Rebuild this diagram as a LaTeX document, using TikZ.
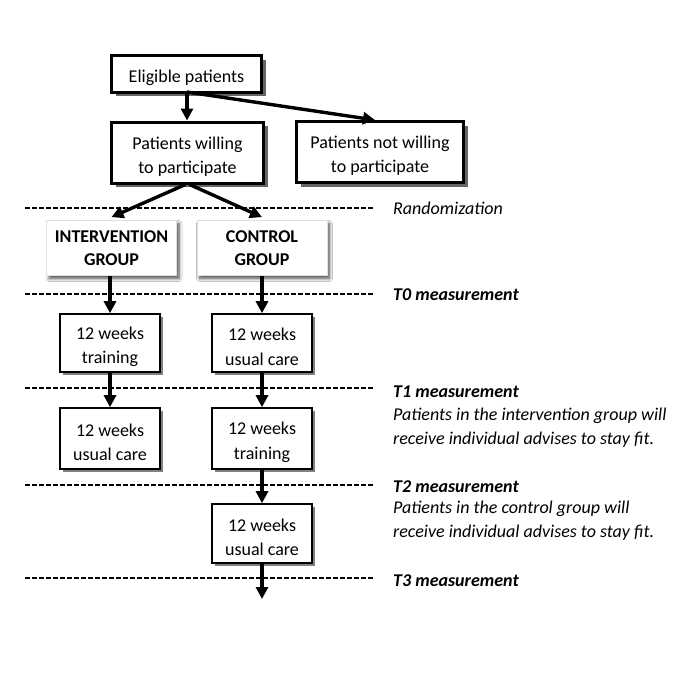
\documentclass[tikz,border=0pt]{standalone}
\usepackage{fontspec}
\setmainfont{Carlito}
\usetikzlibrary{arrows.meta,shadows,shadows.blur}
\newcommand\tup{\rule{0pt}{20pt}}
\begin{document}
\begin{tikzpicture}[x=1pt,y=-1pt,
  topbox/.style={draw=black,line width=3pt,fill=white,align=center,inner sep=0pt,
    font=\fontsize{18}{24}\selectfont,
    drop shadow={shadow xshift=4pt,shadow yshift=-4pt,fill=black!60,opacity=1}},
  grpbox/.style={draw=black!12,line width=0.8pt,fill=white,align=center,inner sep=0pt,
    font=\fontsize{18}{23}\selectfont\bfseries,
    blur shadow={shadow xshift=2.5pt,shadow yshift=-3pt,shadow blur radius=3pt,
      shadow blur steps=8,shadow opacity=70}},
  wkbox/.style={draw=black,line width=1.6pt,fill=white,align=center,inner sep=0pt,
    minimum width=100pt,font=\fontsize{18}{24.5}\selectfont,
    drop shadow={shadow xshift=3pt,shadow yshift=-3pt,fill=black!50,opacity=1}},
  arr/.style={line width=3.4pt,-{Triangle[length=12pt,width=12pt]}},
  dline/.style={line width=1.2pt,dash pattern=on 4.5pt off 2.5pt},
  lab/.style={anchor=west,inner sep=0pt,font=\fontsize{18}{24}\selectfont\bfseries\itshape},
  note/.style={anchor=north west,inner sep=0pt,align=left,font=\fontsize{18}{23.5}\selectfont\itshape}]
\useasboundingbox (0,0) rectangle (685,685);
\fill[white] (0,0) rectangle (685,685);

% dashed lines
\coordinate (d0l) at (25,208); \coordinate (d0r) at (373,208);
\coordinate (d1l) at (25,294); \coordinate (d1r) at (373,294);
\coordinate (d2l) at (25,388); \coordinate (d2r) at (373,388);
\coordinate (d3l) at (25,485); \coordinate (d3r) at (373,485);
\coordinate (d4l) at (25,578); \coordinate (d4r) at (373,578);
\draw[dline] (d0l) -- (d0r);
\draw[dline] (d1l) -- (d1r);
\draw[dline] (d2l) -- (d2r);
\draw[dline] (d3l) -- (d3r);
\draw[dline] (d4l) -- (d4r);

% boxes
\node[topbox,minimum width=150pt,minimum height=36pt] (elig) at (186.5,74) {\tup Eligible patients};
\node[topbox,minimum width=152pt,minimum height=61pt] (will) at (187.5,152.5) {\tup Patients willing\\to participate};
\node[topbox,minimum width=167pt,minimum height=61pt] (notw) at (380,152) {\tup Patients not willing\\to participate};
\node[grpbox,minimum width=130pt,minimum height=55pt] (int) at (111.5,248) {INTERVENTION\\GROUP};
\node[grpbox,minimum width=130pt,minimum height=55pt] (con) at (262,248) {CONTROL\\GROUP};
\node[wkbox,minimum height=58pt] (tr1) at (110,343) {\tup 12 weeks\\training};
\node[wkbox,minimum height=58pt] (uc1) at (262,343) {\tup 12 weeks\\usual care};
\node[wkbox,minimum height=61pt] (uc2) at (110,438.5) {\tup 12 weeks\\usual care};
\node[wkbox,minimum height=61pt] (tr2) at (262,438.5) {\tup 12 weeks\\training};
\node[wkbox,minimum height=59pt] (uc3) at (262,533.5) {\tup 12 weeks\\usual care};
\coordinate (end) at (262,599);

% arrows
\coordinate (es) at (187,92);
\draw[arr] (es) -- (will.north -| es);
\draw[arr] (es) -- ([xshift=-5pt]notw.north);
\draw[arr] ([xshift=-2pt]will.south) -- ([yshift=3pt]int.north);
\draw[arr] ([xshift=2pt]will.south) -- ([yshift=3pt]con.north);
\draw[arr] (int.south -| tr1.north) -- (tr1.north);
\draw[arr] (con.south -| uc1.north) -- (uc1.north);
\draw[arr] (tr1) -- (uc2);
\draw[arr] (uc1) -- (tr2);
\draw[arr] (tr2) -- (uc3);
\draw[arr] (uc3.south) -- (end);

% labels
\node[lab,font=\fontsize{18}{24}\selectfont\itshape] (rnd) at (393,208) {Randomization};
\node[lab] (t0) at (393,294.5) {T0 measurement};
\node[lab] (t1) at (393,392) {T1 measurement};
\node[note] (n1) at (393,408) {Patients in the intervention group will\\receive individual advises to stay fit.};
\node[lab] (t2) at (393,487) {T2 measurement};
\node[note] (n2) at (393,501) {Patients in the control group will\\receive individual advises to stay fit.};
\node[lab] (t3) at (393,581) {T3 measurement};
\end{tikzpicture}
\end{document}
